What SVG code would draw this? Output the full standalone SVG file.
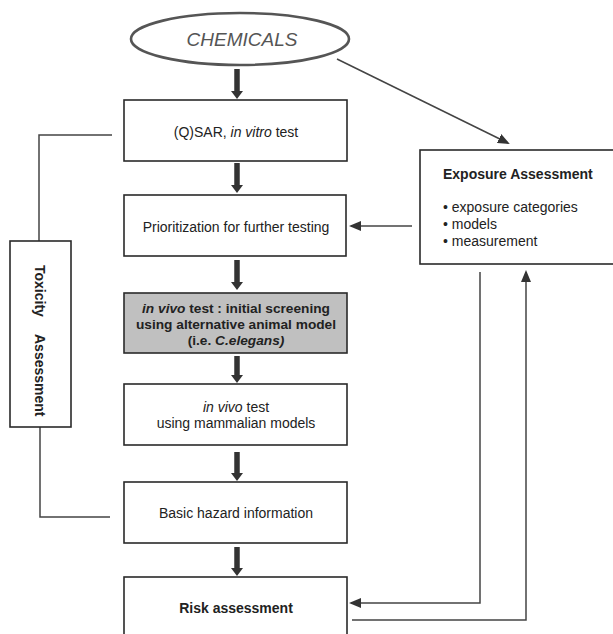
<svg xmlns="http://www.w3.org/2000/svg" width="613" height="634" viewBox="0 0 613 634">
<style>
text{font-family:"Liberation Sans",Arial,sans-serif;fill:#222;font-size:14px}
.box{fill:#fff;stroke:#2a2a2a;stroke-width:1.6}
.gray{fill:#c0c0c0}
.c{text-anchor:middle}
.b{font-weight:bold}
.i{font-style:italic}
.sm{font-size:13.7px}
.thick{stroke:#333;stroke-width:5.5;fill:none;marker-end:url(#hd)}
.thin{stroke:#444;stroke-width:1.5;fill:none}
.thinA{marker-end:url(#ha)}
</style>
<defs>
<marker id="hd" viewBox="0 0 8 12" markerWidth="8" markerHeight="12" refX="2" refY="6" orient="auto" markerUnits="userSpaceOnUse"><path d="M0,0 L8,6 L0,12 z" fill="#333"/></marker>
<marker id="ha" viewBox="0 0 12 10" markerWidth="12" markerHeight="10" refX="10" refY="5" orient="auto" markerUnits="userSpaceOnUse"><path d="M0,0 L12,5 L0,10 z" fill="#333"/></marker>
</defs>
<rect width="613" height="634" fill="#fff"/>
<g id="connectors">
<line class="thick" x1="237" y1="69" x2="237" y2="93"/>
<line class="thick" x1="237" y1="163" x2="237" y2="187"/>
<line class="thick" x1="237" y1="260" x2="237" y2="284"/>
<line class="thick" x1="237" y1="356" x2="237" y2="377"/>
<line class="thick" x1="237" y1="452" x2="237" y2="475"/>
<line class="thick" x1="237" y1="547" x2="237" y2="570"/>
<line class="thin thinA" x1="337" y1="59" x2="508" y2="143"/>
<line class="thin thinA" x1="412" y1="226" x2="351" y2="226"/>
<polyline class="thin thinA" points="480,272 480,603 351,603"/>
<polyline class="thin thinA" points="352,620 526,620 526,272"/>
<polyline class="thin" points="39,241 39,135 112,135"/>
<polyline class="thin" points="40,427 40,517 110,517"/>
</g>
<g id="chemicals">
<ellipse cx="240" cy="39" rx="109" ry="26" fill="#fff" stroke="#555" stroke-width="2.6"/>
<text x="242" y="46" class="c i" style="font-size:19px;fill:#555">CHEMICALS</text>
</g>
<g id="qsar">
<rect class="box" x="124" y="100" width="223" height="61"/>
<text x="236" y="137" class="c">(Q)SAR, <tspan class="i">in vitro</tspan> test</text>
</g>
<g id="prioritization">
<rect class="box" x="124" y="195" width="222" height="61"/>
<text x="236" y="232" class="c">Prioritization for further testing</text>
</g>
<g id="invivo-screening">
<rect class="box gray" x="124" y="293" width="223" height="60"/>
<text x="236" y="313" class="c b sm"><tspan class="i">in vivo</tspan> test : initial screening</text>
<text x="236" y="329" class="c b sm">using alternative animal model</text>
<text x="236" y="345" class="c b sm">(i.e. <tspan class="i">C.elegans)</tspan></text>
</g>
<g id="invivo-mammalian">
<rect class="box" x="124" y="384" width="223" height="61"/>
<text x="236" y="412" class="c"><tspan class="i">in vivo</tspan> test</text>
<text x="236" y="428" class="c">using mammalian models</text>
</g>
<g id="hazard">
<rect class="box" x="124" y="482" width="223" height="61"/>
<text x="236" y="518" class="c">Basic hazard information</text>
</g>
<g id="risk">
<rect class="box" x="124" y="577" width="223" height="70"/>
<text x="236" y="613" class="c b">Risk assessment</text>
</g>
<g id="exposure">
<rect class="box" x="420" y="150" width="200" height="114"/>
<text x="443" y="179" class="b">Exposure Assessment</text>
<text x="443" y="212">• exposure categories</text>
<text x="443" y="229">• models</text>
<text x="443" y="246">• measurement</text>
</g>
<g id="toxicity">
<rect class="box" x="10" y="241" width="61" height="186"/>
<text transform="translate(35,0) rotate(90)" class="b"><tspan x="265" y="0">Toxicity</tspan><tspan x="334" y="0">Assessment</tspan></text>
</g>
</svg>
